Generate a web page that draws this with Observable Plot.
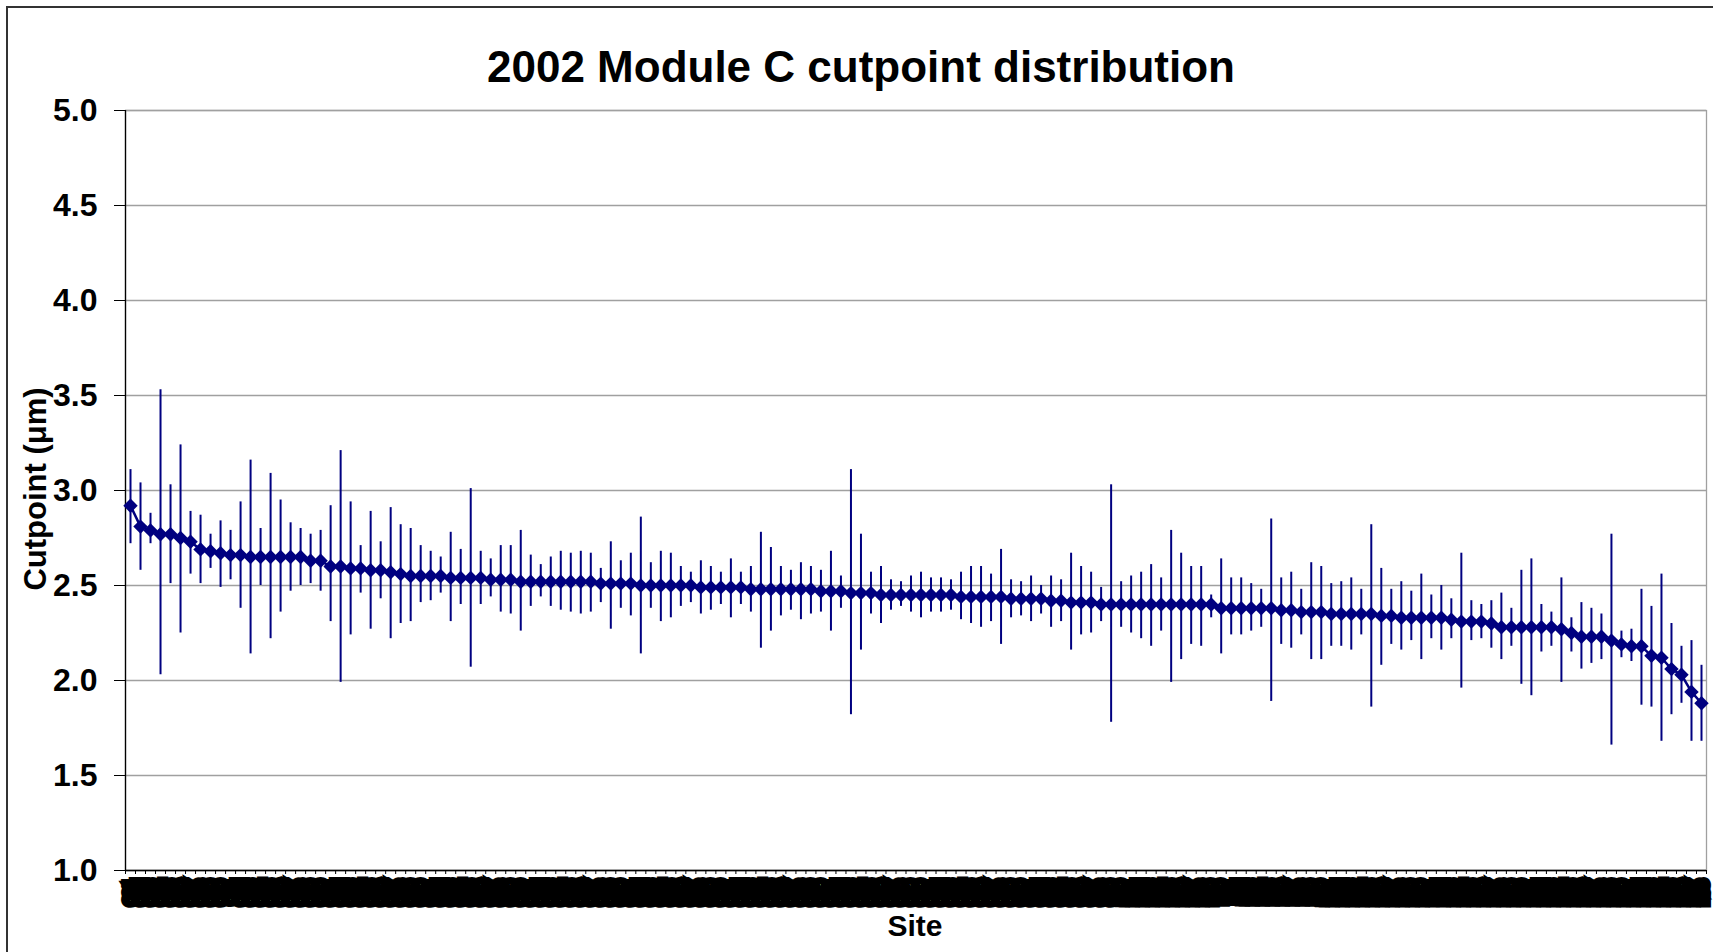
<!DOCTYPE html>
<html><head><meta charset="utf-8">
<script src="https://cdn.jsdelivr.net/npm/d3@7"></script>
<script src="https://cdn.jsdelivr.net/npm/@observablehq/plot@0.6"></script>
<style>
html,body{margin:0;padding:0;background:#fff;overflow:hidden;}
#wrap{position:relative;width:1713px;height:952px;font-family:'Liberation Sans',Arial,sans-serif;overflow:hidden;}
#border{position:absolute;left:6px;top:6px;width:1760px;height:1000px;border:2px solid #333;box-sizing:border-box;}
#title{position:absolute;left:7px;width:1708px;top:45px;text-align:center;font-weight:bold;font-size:44px;line-height:44px;white-space:nowrap;}
#ylabel{position:absolute;left:35px;top:489px;transform:translate(-50%,-50%) rotate(-90deg);font-weight:bold;font-size:31px;line-height:31px;white-space:nowrap;}
#xlabel{position:absolute;left:915px;top:911px;transform:translateX(-50%);font-weight:bold;font-size:30px;line-height:30px;}
#chart{position:absolute;left:0;top:90px;}
g[aria-label="x-axis tick label"] text{stroke:#000;stroke-width:10px;stroke-linejoin:miter;}
</style>
</head><body>
<div id="wrap">
  <div id="border"></div>
  <div id="title">2002 Module C cutpoint distribution</div>
  <div id="ylabel">Cutpoint (μm)</div>
  <div id="xlabel">Site</div>
  <div id="chart"></div>
</div>
<script>
const sites = ["001","002","003","004","005","006","007","008","009","010",
"011","012","013","014","015","016","017","018","019","020",
"021","022","023","024","025","026","027","028","029","030",
"031","032","033","034","035","036","037","038","039","040",
"041","042","043","044","045","046","047","048","049","050",
"051","052","053","054","055","056","057","058","059","060",
"061","062","063","064","065","066","067","068","069","070",
"071","072","073","074","075","076","077","078","079","080",
"081","082","083","084","085","086","087","088","089","090",
"091","092","093","094","095","096","097","098","099","100",
"101","102","103","104","105","106","107","108","109","110",
"111","112","113","114","115","116","117","118","119","120",
"121","122","123","124","125","126","127","128","129","130",
"131","132","133","134","135","136","137","138","139","140",
"141","142","143","144","145","146","147","148","149","150",
"151","152","153","154","155","156","157","158"];

const cutpoint = [2.92,2.81,2.79,2.77,2.77,2.75,2.73,2.69,2.68,2.67,
2.66,2.66,2.65,2.65,2.65,2.65,2.65,2.65,2.63,2.63,
2.60,2.60,2.59,2.59,2.58,2.58,2.57,2.56,2.55,2.55,
2.55,2.55,2.54,2.54,2.54,2.54,2.53,2.53,2.53,2.52,
2.52,2.52,2.52,2.52,2.52,2.52,2.52,2.51,2.51,2.51,
2.51,2.50,2.50,2.50,2.50,2.50,2.50,2.49,2.49,2.49,
2.49,2.49,2.48,2.48,2.48,2.48,2.48,2.48,2.48,2.47,
2.47,2.47,2.46,2.46,2.46,2.45,2.45,2.45,2.45,2.45,
2.45,2.45,2.45,2.44,2.44,2.44,2.44,2.44,2.43,2.43,
2.43,2.43,2.42,2.42,2.41,2.41,2.41,2.40,2.40,2.40,
2.40,2.40,2.40,2.40,2.40,2.40,2.40,2.40,2.40,2.38,
2.38,2.38,2.38,2.38,2.38,2.37,2.37,2.36,2.36,2.36,
2.35,2.35,2.35,2.35,2.35,2.34,2.34,2.33,2.33,2.33,
2.33,2.33,2.32,2.31,2.31,2.31,2.30,2.28,2.28,2.28,
2.28,2.28,2.28,2.27,2.25,2.23,2.23,2.23,2.21,2.19,
2.18,2.18,2.13,2.12,2.06,2.03,1.94,1.88];

const lower = [2.72,2.58,2.72,2.03,2.51,2.25,2.56,2.51,2.59,2.49,
2.53,2.38,2.14,2.50,2.22,2.36,2.47,2.50,2.51,2.47,
2.31,1.99,2.24,2.46,2.27,2.43,2.22,2.30,2.31,2.41,
2.42,2.46,2.31,2.40,2.07,2.40,2.44,2.36,2.35,2.26,
2.39,2.44,2.39,2.37,2.36,2.35,2.36,2.41,2.27,2.38,
2.34,2.14,2.38,2.31,2.33,2.39,2.41,2.35,2.37,2.40,
2.33,2.40,2.36,2.17,2.26,2.34,2.37,2.32,2.35,2.36,
2.26,2.38,1.82,2.16,2.35,2.30,2.37,2.39,2.36,2.33,
2.36,2.36,2.37,2.32,2.30,2.28,2.31,2.19,2.33,2.34,
2.31,2.35,2.28,2.31,2.16,2.24,2.25,2.31,1.78,2.28,
2.25,2.22,2.18,2.26,1.99,2.11,2.19,2.18,2.33,2.14,
2.24,2.24,2.26,2.28,1.89,2.19,2.17,2.24,2.11,2.11,
2.18,2.18,2.16,2.24,1.86,2.08,2.19,2.16,2.21,2.11,
2.22,2.16,2.22,1.96,2.21,2.22,2.17,2.11,2.18,1.98,
1.92,2.15,2.18,1.99,2.15,2.06,2.09,2.11,1.66,2.12,
2.10,1.87,1.86,1.68,1.82,1.88,1.68,1.68];

const upper = [3.11,3.04,2.88,3.53,3.03,3.24,2.89,2.87,2.77,2.84,
2.79,2.94,3.16,2.80,3.09,2.95,2.83,2.80,2.77,2.79,
2.92,3.21,2.94,2.71,2.89,2.73,2.91,2.82,2.80,2.71,
2.68,2.65,2.78,2.69,3.01,2.68,2.64,2.71,2.71,2.79,
2.66,2.61,2.65,2.68,2.67,2.68,2.67,2.59,2.73,2.63,
2.67,2.86,2.62,2.68,2.67,2.60,2.57,2.63,2.60,2.57,
2.64,2.57,2.60,2.78,2.70,2.60,2.58,2.62,2.60,2.58,
2.68,2.55,3.11,2.77,2.57,2.60,2.53,2.52,2.55,2.57,
2.54,2.54,2.53,2.57,2.60,2.60,2.56,2.69,2.53,2.52,
2.55,2.50,2.55,2.53,2.67,2.60,2.57,2.49,3.03,2.52,
2.55,2.57,2.61,2.54,2.79,2.67,2.60,2.60,2.45,2.64,
2.54,2.54,2.51,2.48,2.85,2.54,2.57,2.48,2.62,2.60,
2.51,2.52,2.54,2.48,2.82,2.59,2.48,2.52,2.47,2.56,
2.45,2.50,2.43,2.67,2.42,2.40,2.42,2.46,2.38,2.58,
2.64,2.40,2.36,2.54,2.33,2.41,2.38,2.35,2.77,2.26,
2.27,2.48,2.39,2.56,2.30,2.18,2.21,2.08];

const yTicks = [1.0,1.5,2.0,2.5,3.0,3.5,4.0,4.5,5.0];

const data = sites.map((s, k) => ({i: k + 1, site: s, v: cutpoint[k], lo: lower[k], hi: upper[k]}));
const xDomain = [0.5, sites.length + 0.5];
const boundaries = d3.range(xDomain[0], xDomain[1] + 0.01, 1);
const navy = "#000080";

const chart = Plot.plot({
  width: 1713,
  height: 862,
  marginTop: 20,
  marginBottom: 82,
  marginLeft: 125,
  marginRight: 7,
  style: {fontFamily: "'Liberation Sans', Arial, sans-serif", background: "transparent", overflow: "visible"},
  x: {type: "linear", domain: xDomain},
  y: {domain: [1, 5]},
  marks: [
    Plot.gridY(yTicks, {stroke: "#a0a0a0", strokeOpacity: 1, strokeWidth: 1.3}),
    Plot.frame({stroke: "#a0a0a0", strokeWidth: 1.3}),
    Plot.ruleX([xDomain[0]], {stroke: "#000", strokeWidth: 1.3}),
    Plot.ruleY([1], {stroke: "#000", strokeWidth: 1.3}),
    Plot.axisY({ticks: yTicks, tickFormat: ".1f", tickSize: 11, tickPadding: 17, fontSize: 32, fontWeight: "bold", label: null, stroke: "#000"}),
    Plot.axisX({ticks: boundaries, tickFormat: () => "", tickSize: 4, label: null, stroke: "#000"}),
    Plot.axisX({ticks: data.map(d => d.i), tickFormat: i => sites[i - 1], tickRotate: -90, tickSize: 0, tickPadding: 11, fontSize: 13, fontWeight: "bold", label: null, fill: "#000"}),
    Plot.ruleX(data, {x: "i", y1: "lo", y2: "hi", stroke: navy, strokeWidth: 2}),
    Plot.line(data, {x: "i", y: "v", stroke: navy, strokeWidth: 2.5}),
    Plot.dot(data, {x: "i", y: "v", symbol: "diamond2", r: 6.5, fill: navy, stroke: "none"})
  ]
});
document.getElementById("chart").appendChild(chart);
</script>
</body></html>
